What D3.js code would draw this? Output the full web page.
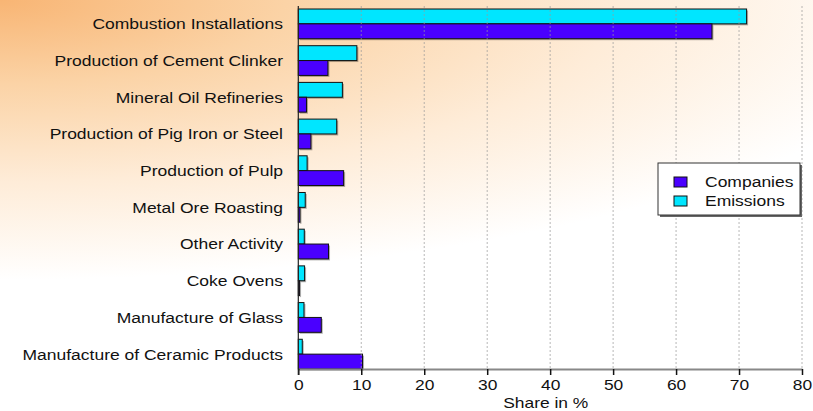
<!DOCTYPE html>
<html>
<head>
<meta charset="utf-8">
<script src="https://cdn.jsdelivr.net/npm/d3@7"></script>
<style>
  body { margin: 0; background: #fff; }
  svg { display: block; font-family: "Liberation Sans", Arial, sans-serif; }
</style>
</head>
<body>
<div class="chart"></div>
<script>
const categories = [
  'Combustion Installations',
  'Production of Cement Clinker',
  'Mineral Oil Refineries',
  'Production of Pig Iron or Steel',
  'Production of Pulp',
  'Metal Ore Roasting',
  'Other Activity',
  'Coke Ovens',
  'Manufacture of Glass',
  'Manufacture of Ceramic Products'
];
const emissions = [71.2, 9.3, 7.0, 6.1, 1.4, 1.1, 0.95, 1.0, 0.9, 0.63];
const companies = [65.7, 4.7, 1.3, 2.0, 7.2, 0.27, 4.8, 0.2, 3.65, 10.2];
const xTicks = [0, 10, 20, 30, 40, 50, 60, 70, 80];
const seriesNames = ['Companies', 'Emissions'];
const seriesColors = ['#4a00ff', '#00e6ff'];

const width = 813, height = 411;
const stretch = 'scale(1.13,1)'; // text in the original is drawn a bit wide
const svg = d3.select('.chart').append('svg')
  .attr('width', width)
  .attr('height', height);

// background wash
const defs = svg.append('defs');
const rg = defs.append('radialGradient')
  .attr('id', 'bg')
  .attr('gradientUnits', 'userSpaceOnUse')
  .attr('cx', 0).attr('cy', 0).attr('r', 560)
  .attr('gradientTransform', 'scale(1.7,0.5)');
rg.append('stop').attr('offset', '0%').attr('stop-color', '#f8b574');
rg.append('stop').attr('offset', '30%').attr('stop-color', '#fbd3a6');
rg.append('stop').attr('offset', '65%').attr('stop-color', '#feecd8');
rg.append('stop').attr('offset', '100%').attr('stop-color', '#ffffff');
svg.append('rect').attr('width', width).attr('height', height).attr('fill', 'url(#bg)');

const x = d3.scaleLinear().domain([0, 80]).range([298.3, 802]);
const y = d3.scaleBand().domain(categories).range([9, 369]).paddingInner(0.19).paddingOuter(0);
const sub = d3.scaleBand().domain(['Emissions', 'Companies']).range([0, y.bandwidth()]);

const bars = [];
categories.forEach((c, i) => {
  bars.push({c, s: 'Emissions', v: emissions[i], col: seriesColors[1]});
  bars.push({c, s: 'Companies', v: companies[i], col: seriesColors[0]});
});

// bars with a soft drop shadow
const g = svg.append('g');
g.selectAll('rect.shadow').data(bars).join('rect')
  .attr('class', 'shadow')
  .attr('x', x(0) + 1.5)
  .attr('y', d => y(d.c) + sub(d.s) + 1.5)
  .attr('width', d => x(d.v) - x(0))
  .attr('height', sub.bandwidth())
  .attr('fill', '#000')
  .attr('opacity', 0.3);
g.selectAll('rect.bar').data(bars).join('rect')
  .attr('class', 'bar')
  .attr('x', x(0))
  .attr('y', d => y(d.c) + sub(d.s))
  .attr('width', d => x(d.v) - x(0))
  .attr('height', sub.bandwidth())
  .attr('fill', d => d.col)
  .attr('stroke', '#111')
  .attr('stroke-width', 1);

// dashed grid on top
svg.append('g').selectAll('line').data(xTicks.slice(1)).join('line')
  .attr('x1', d => x(d)).attr('x2', d => x(d))
  .attr('y1', 6).attr('y2', 369)
  .attr('stroke', '#999')
  .attr('stroke-opacity', 0.7)
  .attr('stroke-dasharray', '2,2');

// x axis
const xAxis = svg.append('g')
  .attr('transform', 'translate(0,369)')
  .call(d3.axisBottom(x).tickValues(xTicks).tickSize(6).tickSizeOuter(0).tickPadding(4));
xAxis.select('.domain').attr('stroke', '#888').attr('stroke-width', 2);
xAxis.selectAll('.tick line').attr('stroke', '#111').attr('stroke-width', 1.5);
xAxis.selectAll('.tick text')
  .attr('font-size', 15).attr('fill', '#111')
  .attr('font-family', '"Liberation Sans", Arial, sans-serif')
  .attr('transform', 'scale(1.16,1)');

svg.append('text')
  .attr('transform', `translate(${x(39.3)},407.5) scale(1.16,1)`)
  .attr('text-anchor', 'middle')
  .attr('font-size', 15)
  .attr('fill', '#111')
  .text('Share in %');

// y axis line and labels
svg.append('line')
  .attr('x1', x(0)).attr('x2', x(0))
  .attr('y1', 6).attr('y2', 375)
  .attr('stroke', '#222').attr('stroke-width', 1.2);
svg.append('g').selectAll('text').data(categories).join('text')
  .attr('transform', d => `translate(283,${y(d) + y.bandwidth() / 2}) ${stretch}`)
  .attr('dy', '0.35em')
  .attr('text-anchor', 'end')
  .attr('font-size', 15.5)
  .attr('fill', '#111')
  .text(d => d);

// legend
const lg = svg.append('g').attr('transform', 'translate(658,163)');
lg.append('rect').attr('x', 2).attr('y', 2).attr('width', 142).attr('height', 52).attr('fill', '#666');
lg.append('rect').attr('width', 142).attr('height', 52).attr('fill', '#fff').attr('stroke', '#333');
seriesNames.forEach((n, i) => {
  lg.append('rect')
    .attr('x', 16).attr('y', 14 + i * 19)
    .attr('width', 13).attr('height', 10)
    .attr('fill', seriesColors[i]).attr('stroke', '#111');
  lg.append('text')
    .attr('transform', `translate(47,${19 + i * 19}) ${stretch}`)
    .attr('dy', '0.35em')
    .attr('font-size', 15.5)
    .attr('fill', '#111')
    .text(n);
});
</script>
</body>
</html>
